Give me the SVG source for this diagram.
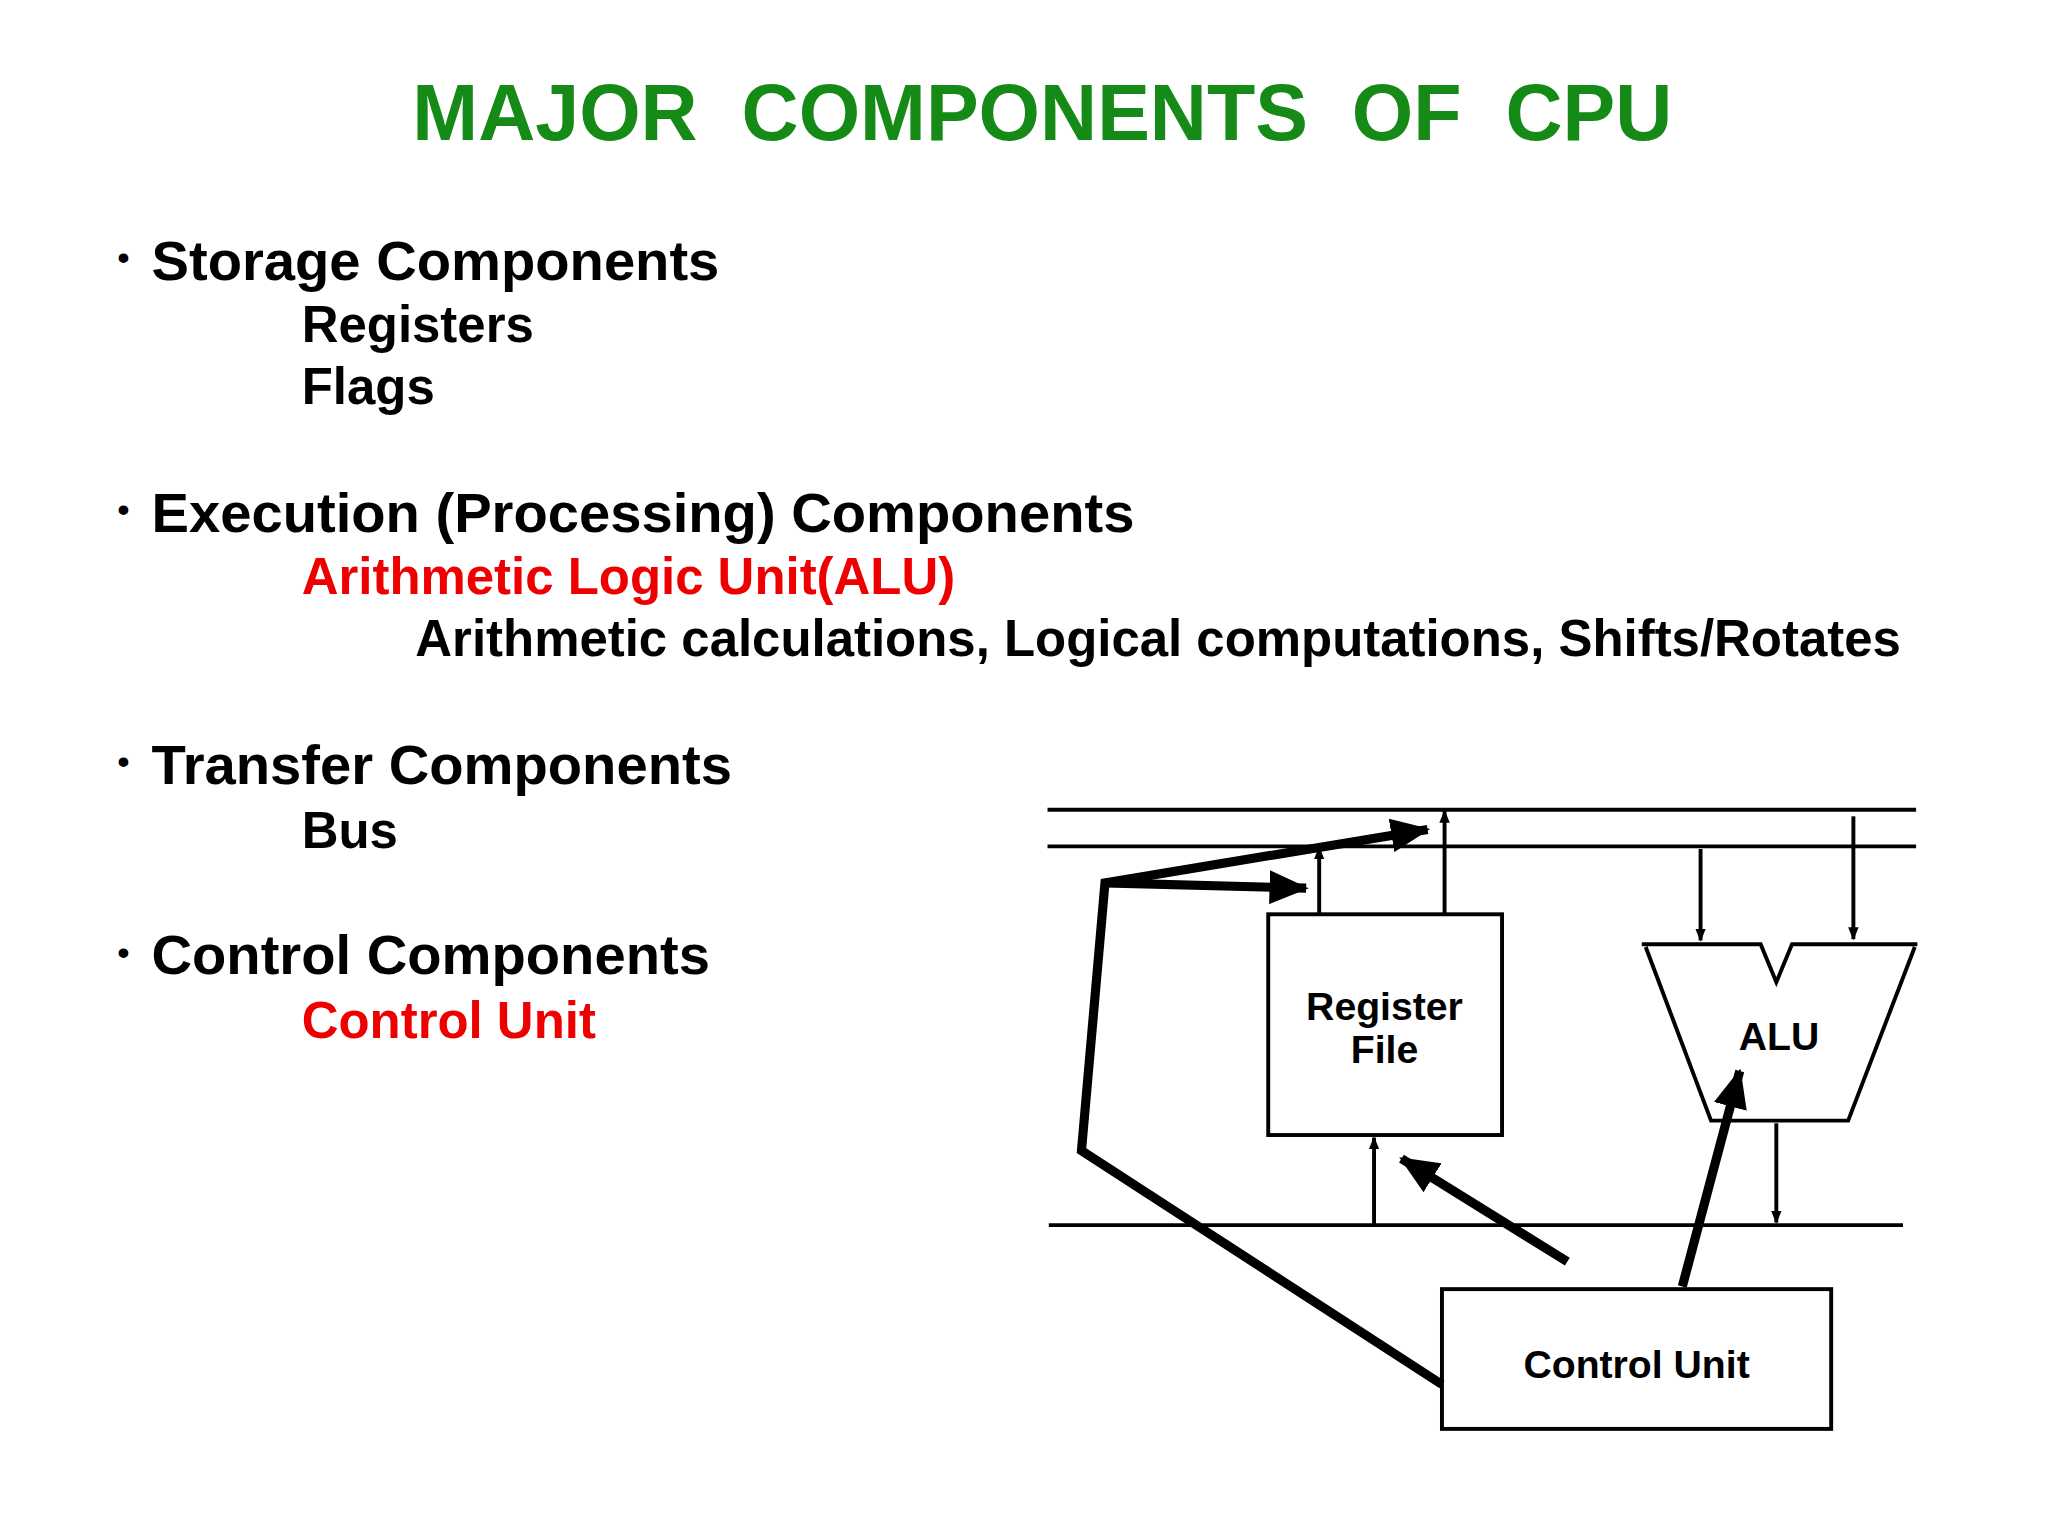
<svg xmlns="http://www.w3.org/2000/svg" width="2048" height="1536" viewBox="0 0 2048 1536">
<style>
text{font-family:"Liberation Sans",Arial,sans-serif;font-weight:bold}
.h{font-size:39px;fill:#000}
.g{font-size:43px}
.r{fill:#ee0000}
.b{font-size:30px}
.t{stroke:#000;stroke-width:3;fill:none}
.k{stroke:#000;stroke-width:7;fill:none}
</style>
<defs>
<marker id="a" markerWidth="10" markerHeight="10" refX="9" refY="5" orient="auto" markerUnits="userSpaceOnUse"><path d="M0,1 L10,5 L0,9Z"/></marker>
<marker id="A" markerWidth="30" markerHeight="26" refX="28" refY="13" orient="auto" markerUnits="userSpaceOnUse"><path d="M0,0 L30,13 L0,26Z"/></marker>
</defs>
<rect width="2048" height="1536" fill="#fff"/>
<g transform="scale(1.30612)">
<text x="798" y="107" font-size="60.5" fill="#168a16" text-anchor="middle" xml:space="preserve">MAJOR  COMPONENTS  OF  CPU</text>
<g class="h">
<text x="90" y="206" font-size="26">•</text><text x="116" y="214" class="g">Storage Components</text>
<text x="231" y="262">Registers</text>
<text x="231" y="309">Flags</text>
<text x="90" y="399" font-size="26">•</text><text x="116" y="407" class="g">Execution (Processing) Components</text>
<text x="231" y="455" class="r">Arithmetic Logic Unit(ALU)</text>
<text x="318" y="502">Arithmetic calculations, Logical computations, Shifts/Rotates</text>
<text x="90" y="592" font-size="26">•</text><text x="116" y="600" class="g">Transfer Components</text>
<text x="231" y="649">Bus</text>
<text x="90" y="738" font-size="26">•</text><text x="116" y="746" class="g">Control Components</text>
<text x="231" y="795" class="r">Control Unit</text>
</g>
<g id="buses" class="t">
<line x1="802" y1="620" x2="1467" y2="620"/>
<line x1="802" y1="648" x2="1467" y2="648"/>
<line x1="803" y1="938" x2="1457" y2="938"/>
</g>
<g id="regfile"><rect x="971" y="700" width="179" height="169" class="t"/>
<text class="b" x="1060" y="781" text-anchor="middle">Register</text><text class="b" x="1060" y="814" text-anchor="middle">File</text></g>
<g id="alu"><path d="M1257,723 L1348,723 L1360,752 L1372,723 L1468,723 M1260,725 L1310,858 L1415,858 L1466,725" class="t"/>
<text class="b" x="1362" y="804" text-anchor="middle">ALU</text></g>
<g id="cu"><rect x="1104" y="987" width="298" height="107" class="t"/>
<text class="b" x="1253" y="1055" text-anchor="middle">Control Unit</text></g>
<g id="connectors">
<line x1="1010" y1="700" x2="1010" y2="649" class="t" marker-end="url(#a)"/>
<line x1="1106" y1="700" x2="1106" y2="621" class="t" marker-end="url(#a)"/>
<line x1="1302" y1="650" x2="1302" y2="720" class="t" marker-end="url(#a)"/>
<line x1="1419" y1="625" x2="1419" y2="719" class="t" marker-end="url(#a)"/>
<line x1="1360" y1="860" x2="1360" y2="936" class="t" marker-end="url(#a)"/>
<line x1="1052" y1="938" x2="1052" y2="871" class="t" marker-end="url(#a)"/>
<polyline points="1104,1060 828,881 846,676 1093,635" class="k" marker-end="url(#A)"/>
<line x1="846" y1="676" x2="1000" y2="680" class="k" marker-end="url(#A)"/>
<line x1="1200" y1="966" x2="1073" y2="887" class="k" marker-end="url(#A)"/>
<line x1="1288" y1="985" x2="1332" y2="820" class="k" marker-end="url(#A)"/>
</g>
</g>
</svg>
